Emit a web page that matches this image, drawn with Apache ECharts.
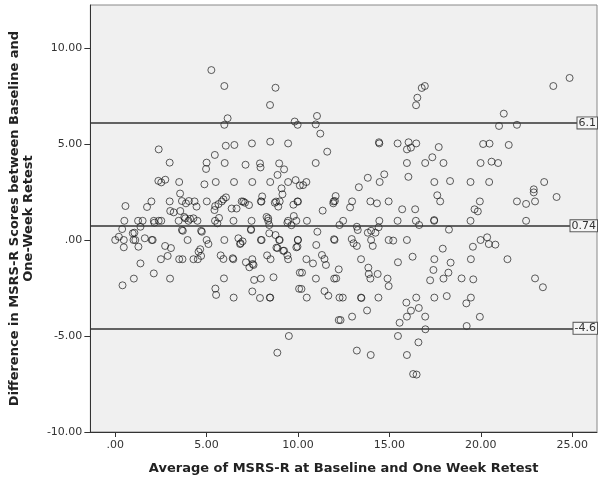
<!DOCTYPE html>
<html>
<head>
<meta charset="utf-8">
<script src="https://cdn.jsdelivr.net/npm/echarts@6/dist/echarts.min.js"></script>
<style>
  html, body { margin: 0; padding: 0; background: #fff; }
  #main { width: 600px; height: 481px; }
</style>
</head>
<body>
<div id="main"></div>
<script>
  // [average, difference]
  var lowPoints = [
    [0.0, 0], [0.2, 0.17], [0.47, 0], [1.0, 0], [1.1, 0], [1.62, 0.09], [2.0, 0], [2.05, 0], [3.96, 0], [5.0, 0],
    [0.38, 0.57], [1.05, 0.38], [0.96, 0.35], [1.38, 0.69], [3.7, 0.48], [4.7, 0.48], [4.74, 0.43], [3.65, 0.52],
    [0.5, 1.0], [1.25, 1.0], [1.5, 1.0], [2.11, 1.0], [2.14, 0.9], [2.38, 1.0], [2.52, 1.0], [3.47, 1.0],
    [3.78, 1.2], [4.01, 1.0], [4.1, 1.1], [4.5, 1.0], [5.46, 1.0], [5.59, 0.87], [3.83, 1.13], [4.28, 1.13],
    [3.01, 1.51], [3.2, 1.44], [3.56, 1.51],
    [0.56, 1.77], [1.74, 1.72], [1.98, 2.01], [2.98, 2.01], [3.65, 2.03], [3.87, 1.91], [4.03, 2.03],
    [4.34, 2.01], [4.45, 1.74], [5.01, 2.01], [5.43, 1.56], [5.47, 1.77], [5.65, 1.87], [3.55, 2.42],
    [2.36, 3.08], [2.52, 3.0], [2.74, 3.14], [3.5, 3.02], [4.88, 2.9], [5.5, 3.02],
    [2.38, 4.72], [2.98, 4.03], [5.45, 4.43], [5.0, 4.03], [4.97, 3.7], [5.26, 8.85],
    [0.47, -0.38], [1.27, -0.35], [1.38, -1.22], [2.73, -0.31], [3.05, -0.42], [2.5, -1.0], [2.87, -0.83],
    [3.5, -1.0], [3.68, -1.0], [4.28, -1.0], [4.52, -1.0], [4.56, -0.61], [4.7, -0.83], [4.65, -0.48], [5.1, -0.21],
    [0.4, -2.36], [1.02, -2.01], [2.11, -1.74], [3.0, -2.01], [5.48, -2.53], [5.52, -2.86]
  ]
  var midPoints = [
    [5.77, -0.8], [5.92, -0.99], [5.95, -2.0], [5.97, 0], [5.99, 4.01], [5.97, 8.02], [6.15, 6.34], [5.97, 6.0],
    [6.05, 4.91], [6.52, 4.95], [7.48, 5.03], [8.48, 5.12], [9.46, 5.03],
    [7.13, 3.92], [7.92, 3.99], [7.95, 3.78], [8.97, 3.99], [9.24, 3.68], [8.88, 3.39],
    [6.5, 3.02], [7.5, 3.02], [8.48, 3.02], [9.46, 3.02], [9.87, 3.12], [10.1, 2.84], [10.46, 3.02], [10.28, 2.86],
    [9.1, 2.69], [9.15, 2.38], [8.04, 2.27],
    [5.83, 2.01], [5.92, 2.12], [6.06, 2.22], [6.92, 2.01], [7.01, 2.0], [7.1, 1.94], [7.97, 2.01], [8.0, 2.0],
    [8.73, 1.94], [8.92, 1.74], [8.8, 2.0], [9.0, 2.01], [9.75, 1.84], [9.97, 2.01], [10.0, 2.0],
    [6.37, 1.64], [6.64, 1.64], [7.32, 1.82],
    [5.68, 1.15], [6.47, 1.0], [7.46, 1.0], [8.28, 1.2], [8.37, 1.0], [8.37, 1.13], [8.43, 0.78], [9.46, 1.0],
    [9.42, 0.9], [9.64, 0.77], [9.77, 1.25], [9.91, 1.0], [10.49, 1.0],
    [7.43, 0.52], [7.43, 0.56], [8.43, 0.35], [8.77, 0.26],
    [6.74, 0.09], [6.86, -0.17], [6.97, -0.07], [6.83, -0.21], [7.97, 0], [8.01, 0], [8.97, 0], [9.0, 0], [9.99, 0], [10.0, 0],
    [8.82, -0.4], [8.88, -0.42], [9.19, -0.56], [9.24, -0.56], [9.42, -0.8], [9.46, -1.0], [9.91, -0.38], [9.97, -0.35],
    [6.43, -0.95], [6.46, -1.0], [7.15, -1.16], [7.34, -1.42], [7.52, -1.25], [7.5, -1.0], [7.57, -1.3], [8.31, -0.8], [8.5, -1.0],
    [10.1, -1.7], [10.06, -2.54], [10.19, -2.55],
    [6.48, -3.0], [7.5, -2.68], [7.6, -2.08], [7.97, -2.01], [7.92, -3.02], [8.46, -3.0], [8.48, -3.0], [8.66, -1.94],
    [9.5, -5.0], [8.87, -5.87],
    [8.77, 7.93], [8.47, 7.03], [9.82, 6.17], [9.98, 6.0],
    [10.97, 6.02], [11.04, 6.46], [11.22, 5.54], [11.6, 4.6], [10.97, 4.01],
    [11.06, 0.43], [11.0, -0.26], [11.97, 0.04], [12.0, 0], [12.27, 0.78], [12.47, 1.0],
    [10.46, -1.0], [10.82, -1.22], [11.31, -0.78], [11.45, -0.99], [11.53, -1.3], [12.23, -1.53], [10.22, -1.7],
    [10.98, -2.01], [11.98, -2.01], [10.48, -3.0], [11.45, -2.66], [11.66, -2.9], [12.27, -3.0], [12.23, -4.17],
    [11.35, 1.53], [11.93, 1.91], [12.02, 2.03], [11.95, 2.01], [12.06, 2.29]
  ]
  var highPoints = [
    [12.96, 2.01], [12.85, 1.7], [13.96, 2.01], [14.32, 1.91], [14.96, 2.01], [15.7, 1.6], [16.41, 1.6],
    [17.62, 2.33], [17.78, 2.01], [19.66, 1.6], [19.84, 1.49], [19.95, 2.01],
    [13.33, 2.75], [13.82, 3.24], [14.72, 3.42], [14.47, 3.02], [16.04, 3.29], [17.46, 3.02], [18.32, 3.07],
    [19.44, 3.02], [20.46, 3.02],
    [14.45, 5.03], [14.43, 5.09], [15.45, 5.03], [16.05, 5.09], [15.96, 4.72], [16.18, 4.81], [16.47, 5.03], [17.7, 4.84],
    [15.96, 4.01], [16.96, 4.01], [17.35, 4.31], [17.96, 4.01],
    [16.94, 8.02], [16.77, 7.92], [16.53, 7.41], [16.46, 7.02],
    [13.22, 0.69], [13.27, 0.52], [13.82, 0.38], [14.0, 0.48], [14.24, 0.38], [14.41, 0.66], [14.45, 1.0],
    [15.45, 1.0], [16.45, 1.0], [17.45, 1.0], [17.45, 1.04], [16.63, 0.78], [18.26, 0.54], [19.44, 1.0],
    [12.94, 0.05], [13.04, -0.17], [13.22, -0.31], [14.0, 0], [14.09, -0.31], [14.96, 0], [15.21, -0.03], [15.96, 0],
    [16.27, -0.87], [15.47, -1.16], [13.45, -1.0], [13.85, -1.44], [13.87, -1.77], [13.96, -2.01], [14.36, -1.77],
    [14.9, -2.01], [14.96, -2.4], [12.09, -2.0], [12.45, -3.0], [12.96, -3.99], [12.33, -4.17], [13.45, -3.0],
    [13.47, -3.02], [13.78, -3.67], [14.4, -3.0], [15.56, -4.31], [15.93, -3.26], [16.18, -3.68], [15.96, -3.99],
    [16.47, -3.0], [16.61, -3.54], [16.96, -3.99], [16.97, -4.65], [15.47, -5.0], [16.59, -5.33], [13.22, -5.76],
    [13.98, -5.99], [15.96, -5.99], [16.3, -6.98], [16.49, -7.01],
    [17.46, -1.0], [17.92, -0.45], [17.41, -1.56], [18.35, -1.18], [18.23, -1.7], [17.96, -2.01], [17.23, -2.1],
    [18.95, -2.0], [17.46, -3.0], [18.14, -2.92],
    [19.99, 0], [20.35, 0.14], [20.44, -0.21], [20.8, -0.24], [19.57, -0.35], [19.46, -1.0], [19.59, -2.05],
    [19.21, -3.3], [19.46, -3.0], [19.95, -4.0], [19.23, -4.48], [21.46, -1.0], [22.97, -2.0], [23.4, -2.46],
    [20.13, 5.0], [20.48, 5.02], [21.53, 4.95], [19.99, 4.01], [20.59, 4.08], [20.95, 4.01], [21.26, 6.58],
    [21.0, 5.94], [21.98, 6.0],
    [21.98, 2.01], [22.48, 1.88], [22.97, 2.01], [22.9, 2.64], [22.9, 2.48], [23.47, 3.02], [24.15, 2.24], [22.48, 1.0],
    [23.97, 8.02], [24.86, 8.44]
  ]

  // upper limit, mean difference, lower limit
  var refValues = [6.1, 0.74, -4.6]
  var refLabels = ['6.1', '0.74', '-4.6']

  var xTicks = [0, 5, 10, 15, 20, 25]
  var yTicks = [-10, -5, 0, 5, 10]

  var xTitle = 'Average of MSRS-R at Baseline and One Week Retest'
  var yTitle = 'Difference in MSRS-R Scores between Baseline and\nOne-Week Retest'

  var FONT = 'DejaVu Sans'

  function fmtTick (v) {
    // SPSS style: .00, 5.00, -5.00
    if (v === 0) return '.00'
    return v.toFixed(2)
  }

  function getOptions () {
    var refData = refValues.map(function (v, i) {
      return { yAxis: v, label: { formatter: refLabels[i] } }
    })
    return {
      animation: false,
      backgroundColor: '#fff',
      grid: {
        left: 88,
        right: 3,
        top: 5,
        bottom: 49,
        show: true,
        backgroundColor: '#f0f0f0',
        borderColor: '#888',
        borderWidth: 1
      },
      xAxis: {
        type: 'value',
        min: -1.36,
        max: 26.36,
        name: xTitle,
        nameLocation: 'middle',
        nameGap: 30,
        nameTextStyle: { color: '#222', fontFamily: FONT, fontWeight: 'bold', fontSize: 13 },
        axisLine: { onZero: false, lineStyle: { color: '#333', width: 1 } },
        axisTick: { show: true, length: 5, customValues: xTicks, lineStyle: { color: '#333' } },
        axisLabel: { customValues: xTicks, formatter: fmtTick, color: '#333', fontFamily: FONT, fontSize: 11, margin: 8 },
        splitLine: { show: false }
      },
      yAxis: {
        type: 'value',
        min: -10,
        max: 12.24,
        name: yTitle,
        nameLocation: 'middle',
        nameRotate: 90,
        nameGap: 48,
        nameTextStyle: { color: '#222', fontFamily: FONT, fontWeight: 'bold', fontSize: 13, lineHeight: 14, align: 'center' },
        axisLine: { onZero: false, lineStyle: { color: '#333', width: 1 } },
        axisTick: { show: true, length: 6, customValues: yTicks, lineStyle: { color: '#333' } },
        axisLabel: { customValues: yTicks, formatter: fmtTick, color: '#333', fontFamily: FONT, fontSize: 11, margin: 8 },
        splitLine: { show: false }
      },
      series: [{
        type: 'scatter',
        data: lowPoints.concat(midPoints, highPoints),
        symbol: 'circle',
        symbolSize: 7,
        itemStyle: {
          color: 'rgba(0,0,0,0)',
          borderColor: 'rgba(20,20,20,0.85)',
          borderWidth: 1
        },
        markLine: {
          silent: true,
          symbol: 'none',
          lineStyle: { color: '#333', width: 1.5, type: 'solid' },
          label: {
            position: 'insideEnd',
            distance: 0,
            color: '#333',
            fontFamily: FONT,
            fontSize: 11,
            backgroundColor: '#f6f6f6',
            borderColor: '#555',
            borderWidth: 1,
            padding: [0, 1, 0, 1]
          },
          data: refData
        }
      }]
    }
  }

  var chart = echarts.init(document.getElementById('main'))
  chart.setOption(getOptions())
</script>
</body>
</html>
